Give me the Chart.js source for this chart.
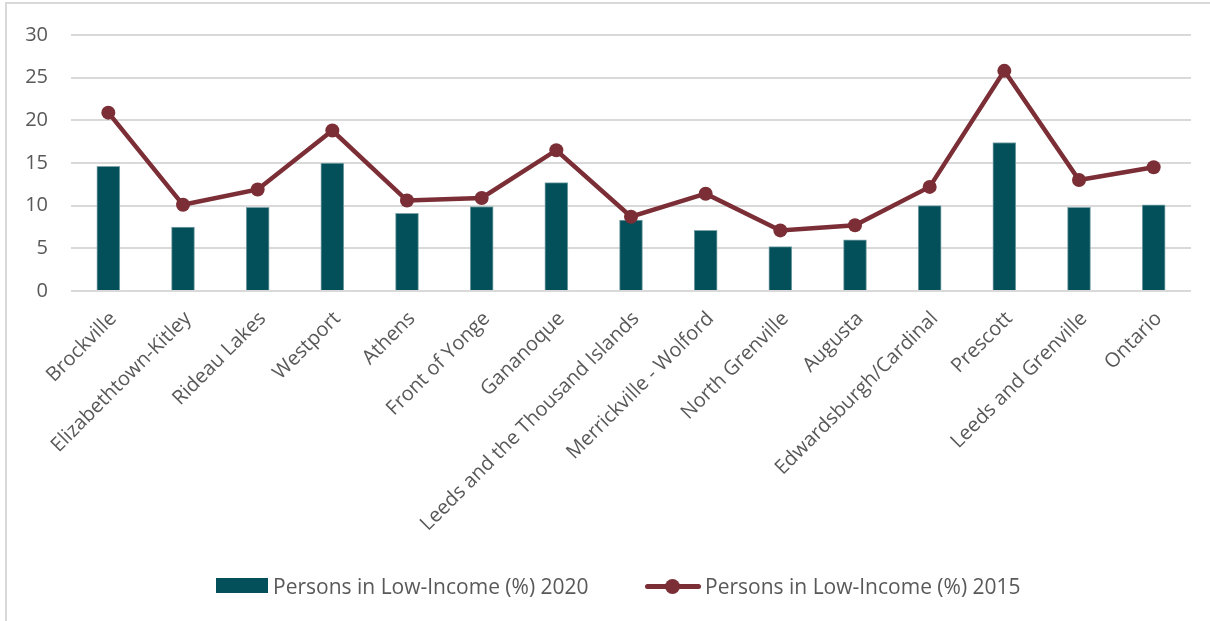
<!DOCTYPE html>
<html>
<head>
<meta charset="utf-8">
<title>Persons in Low-Income</title>
<script src="https://cdn.jsdelivr.net/npm/chart.js@4.4.0/dist/chart.umd.min.js"></script>
<style>
  body { margin: 0; background: #fff; font-family: "Open Sans", sans-serif; }
  #frame { position: absolute; left: 5px; top: 2px; width: 1300px; height: 700px;
           border-left: 2px solid #d9d9d9; border-top: 2px solid #d9d9d9; }
  #chart { position: absolute; left: 0; top: 0; }
  .legend-item { position: absolute; top: 574px; height: 24px; }
  .legend-text { position: absolute; top: 0; font-size: 21px; line-height: 24px; color: #595959; white-space: nowrap; }
  .swatch-bar { position: absolute; top: 4px; width: 52px; height: 15px; background: #03505a; }
  .swatch-line { position: absolute; top: 10px; width: 56px; height: 5px; background: #7b2e35; border-radius: 3px; }
  .swatch-dot { position: absolute; top: 5px; width: 15px; height: 15px; border-radius: 50%; background: #7b2e35; }
</style>
</head>
<body>
<div id="frame"></div>
<canvas id="chart" width="1210" height="621"></canvas>

<div class="legend-item" style="left:216px">
  <div class="swatch-bar" style="left:0"></div>
  <div class="legend-text" style="left:57px">Persons in Low-Income (%) 2020</div>
</div>
<div class="legend-item" style="left:645px">
  <div class="swatch-line" style="left:0"></div>
  <div class="swatch-dot" style="left:20px"></div>
  <div class="legend-text" style="left:60px">Persons in Low-Income (%) 2015</div>
</div>

<script>
const places = [
  'Brockville', 'Elizabethtown-Kitley', 'Rideau Lakes', 'Westport', 'Athens',
  'Front of Yonge', 'Gananoque', 'Leeds and the Thousand Islands',
  'Merrickville - Wolford', 'North Grenville', 'Augusta',
  'Edwardsburgh/Cardinal', 'Prescott', 'Leeds and Grenville', 'Ontario'
];
const lowIncome2020 = [14.6, 7.5, 9.8, 15.0, 9.1, 9.9, 12.7, 8.3, 7.1, 5.2, 6.0, 10.0, 17.4, 9.8, 10.1];
const lowIncome2015 = [20.9, 10.1, 11.9, 18.8, 10.6, 10.9, 16.5, 8.7, 11.4, 7.1, 7.7, 12.2, 25.8, 13.0, 14.5];
const yTicks = [0, 5, 10, 15, 20, 25, 30];

const grey = '#595959';

new Chart(document.getElementById('chart'), {
  type: 'bar',
  data: {
    labels: places,
    datasets: [
      {
        type: 'line',
        label: 'Persons in Low-Income (%) 2015',
        data: lowIncome2015,
        borderColor: '#7b2e35',
        backgroundColor: '#7b2e35',
        borderWidth: 4.5,
        pointRadius: 7,
        pointBorderWidth: 0,
        tension: 0,
        order: 0
      },
      {
        label: 'Persons in Low-Income (%) 2020',
        data: lowIncome2020,
        backgroundColor: '#03505a',
        borderColor: '#7fa5aa',
        borderWidth: 1,
        barThickness: 23,
        order: 1
      }
    ]
  },
  options: {
    responsive: false,
    animation: false,
    layout: { padding: { top: 33, right: 19, left: 0, bottom: 0 } },
    plugins: { legend: { display: false }, tooltip: { enabled: false } },
    scales: {
      x: {
        offset: true,
        grid: { display: false },
        border: { display: false },
        ticks: {
          autoSkip: false, minRotation: 45, maxRotation: 45,
          color: grey, font: { family: 'Open Sans', size: 20 },
          padding: 8, labelOffset: 5
        },
        afterFit: s => { s.height = 330; }
      },
      y: {
        min: 0, max: 30,
        afterBuildTicks: s => { s.ticks = yTicks.map(v => ({ value: v })); },
        ticks: { padding: 23, color: grey, font: { family: 'Open Sans', size: 20 } },
        grid: { color: '#d9d9d9', lineWidth: 2, drawTicks: false },
        border: { display: false },
        afterFit: s => { s.width = 71; }
      }
    }
  }
});
</script>
</body>
</html>
